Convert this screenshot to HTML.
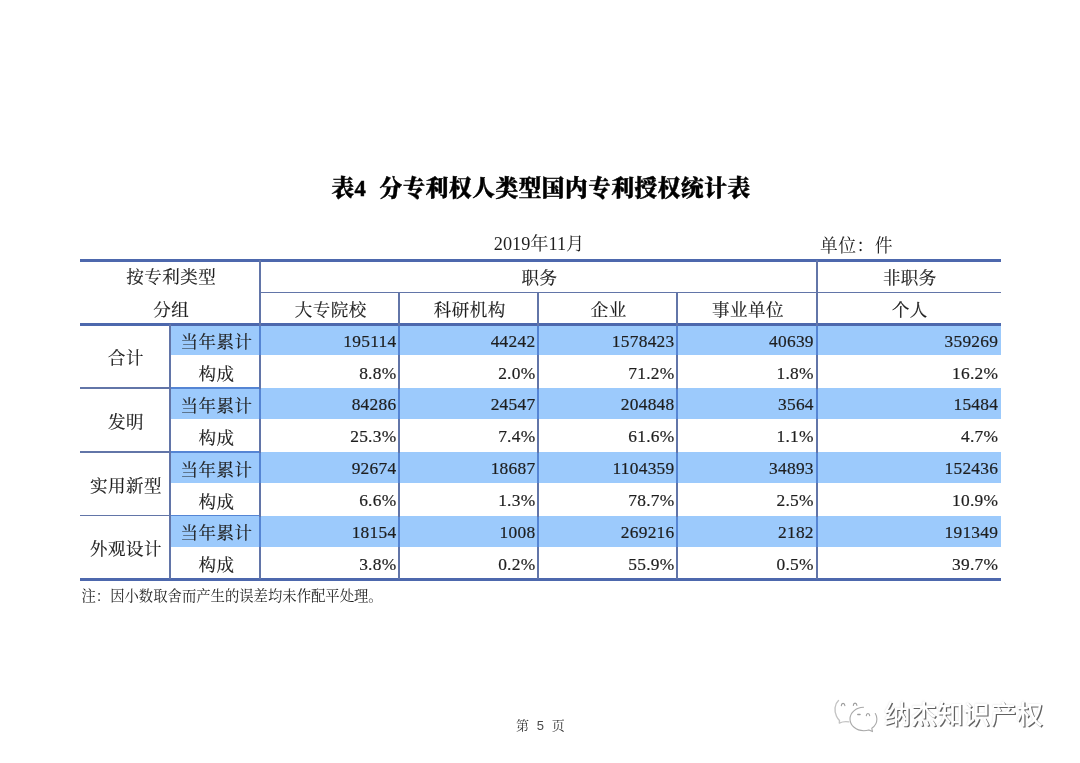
<!DOCTYPE html>
<html lang="zh-CN">
<head>
<meta charset="utf-8">
<title>表4 分专利权人类型国内专利授权统计表</title>
<style>
html,body{margin:0;padding:0;background:#fff;}
body{width:1080px;height:763px;position:relative;overflow:hidden;
 font-family:"Liberation Serif","Noto Serif CJK SC",serif;color:#1e1e1e;}
.abs{position:absolute;white-space:nowrap;}
.title{left:0;width:1080px;top:173.2px;padding-left:1px;-webkit-text-stroke:0.45px #000;text-align:center;font-size:22.6px;font-weight:900;line-height:32px;color:#000;letter-spacing:0.6px;}
.sub{font-size:18px;line-height:24px;}
.cell{position:absolute;-webkit-text-stroke:0.2px #1e1e1e;font-size:18px;line-height:32px;height:32px;white-space:nowrap;}
.c{text-align:center;font-size:17.5px;letter-spacing:0.5px;padding-left:1.1px;}
.r{text-align:right;font-size:17.4px;letter-spacing:0.25px;}
.fill{position:absolute;background:#9ccafc;}
.ln{position:absolute;background:#4d68ad;}
.vl{position:absolute;background:#6275a8;}
.vb{position:absolute;background:#5585d4;}
.note{left:81.5px;top:587px;font-size:14.35px;line-height:18px;}
.pg{top:717px;font-size:13px;line-height:18px;color:#333;}
.wm{left:884px;top:697.5px;font-family:"Liberation Sans","Noto Sans CJK SC",sans-serif;font-size:26.5px;font-weight:500;line-height:34px;color:#fff;
 text-shadow:1.2px 1.2px 0.6px rgba(70,70,70,.85),0 0 1.5px rgba(130,130,130,.35);letter-spacing:0;}
</style>
</head>
<body>
<div id="page" style="position:absolute;left:0;top:0;width:1080px;height:763px;will-change:transform;">

<div class="abs title">表4<span style="display:inline-block;width:13px;"></span>分专利权人类型国内专利授权统计表</div>
<div class="abs sub" style="left:493.8px;top:232.2px;font-size:18.25px;">2019年11月</div>
<div class="abs sub" style="left:820px;top:234px;font-size:17.8px;letter-spacing:0.5px;">单位：件</div>
<div class="fill" style="left:170.0px;top:324.4px;width:831.0px;height:31.1px;"></div>
<div class="fill" style="left:170.0px;top:388.1px;width:831.0px;height:31.1px;"></div>
<div class="fill" style="left:170.0px;top:451.8px;width:831.0px;height:31.1px;"></div>
<div class="fill" style="left:170.0px;top:515.6px;width:831.0px;height:31.1px;"></div>
<div class="ln" style="left:80.0px;top:258.9px;width:921.0px;height:2.8px;"></div>
<div class="vl" style="left:260.2px;top:291.6px;width:740.8px;height:1.9px;"></div>
<div class="ln" style="left:80.0px;top:323.0px;width:921.0px;height:2.8px;"></div>
<div class="ln" style="left:80.0px;top:577.9px;width:921.0px;height:2.8px;"></div>
<div class="vl" style="left:80.0px;top:387.2px;width:90.0px;height:1.8px;"></div>
<div class="vb" style="left:170.0px;top:387.2px;width:90.2px;height:1.8px;"></div>
<div class="vl" style="left:80.0px;top:450.9px;width:90.0px;height:1.8px;"></div>
<div class="vb" style="left:170.0px;top:450.9px;width:90.2px;height:1.8px;"></div>
<div class="vl" style="left:80.0px;top:514.7px;width:90.0px;height:1.8px;"></div>
<div class="vb" style="left:170.0px;top:514.7px;width:90.2px;height:1.8px;"></div>
<div class="vl" style="left:259.2px;top:260.3px;width:2.0px;height:319.0px;"></div>
<div class="vl" style="left:815.6px;top:260.3px;width:2.0px;height:319.0px;"></div>
<div class="vl" style="left:398.2px;top:292.5px;width:2.0px;height:286.8px;"></div>
<div class="vl" style="left:537.2px;top:292.5px;width:2.0px;height:286.8px;"></div>
<div class="vl" style="left:676.3px;top:292.5px;width:2.0px;height:286.8px;"></div>
<div class="vl" style="left:169.0px;top:324.4px;width:2.0px;height:254.9px;"></div>
<div class="vb" style="left:259.2px;top:325.6px;width:2.0px;height:29.9px;"></div>
<div class="vb" style="left:398.2px;top:325.6px;width:2.0px;height:29.9px;"></div>
<div class="vb" style="left:537.2px;top:325.6px;width:2.0px;height:29.9px;"></div>
<div class="vb" style="left:676.3px;top:325.6px;width:2.0px;height:29.9px;"></div>
<div class="vb" style="left:815.6px;top:325.6px;width:2.0px;height:29.9px;"></div>
<div class="vb" style="left:259.2px;top:389.3px;width:2.0px;height:29.9px;"></div>
<div class="vb" style="left:398.2px;top:389.3px;width:2.0px;height:29.9px;"></div>
<div class="vb" style="left:537.2px;top:389.3px;width:2.0px;height:29.9px;"></div>
<div class="vb" style="left:676.3px;top:389.3px;width:2.0px;height:29.9px;"></div>
<div class="vb" style="left:815.6px;top:389.3px;width:2.0px;height:29.9px;"></div>
<div class="vb" style="left:259.2px;top:453.0px;width:2.0px;height:29.9px;"></div>
<div class="vb" style="left:398.2px;top:453.0px;width:2.0px;height:29.9px;"></div>
<div class="vb" style="left:537.2px;top:453.0px;width:2.0px;height:29.9px;"></div>
<div class="vb" style="left:676.3px;top:453.0px;width:2.0px;height:29.9px;"></div>
<div class="vb" style="left:815.6px;top:453.0px;width:2.0px;height:29.9px;"></div>
<div class="vb" style="left:259.2px;top:516.8px;width:2.0px;height:29.9px;"></div>
<div class="vb" style="left:398.2px;top:516.8px;width:2.0px;height:29.9px;"></div>
<div class="vb" style="left:537.2px;top:516.8px;width:2.0px;height:29.9px;"></div>
<div class="vb" style="left:676.3px;top:516.8px;width:2.0px;height:29.9px;"></div>
<div class="vb" style="left:815.6px;top:516.8px;width:2.0px;height:29.9px;"></div>
<div class="cell c" style="left:80.0px;top:261.1px;width:180.2px;">按专利类型</div>
<div class="cell c" style="left:80.0px;top:293.5px;width:180.2px;">分组</div>
<div class="cell c" style="left:260.2px;top:261.7px;width:556.4px;">职务</div>
<div class="cell c" style="left:816.6px;top:261.7px;width:184.4px;">非职务</div>
<div class="cell c" style="left:260.2px;top:294.0px;width:139.0px;">大专院校</div>
<div class="cell c" style="left:399.2px;top:294.0px;width:139.0px;">科研机构</div>
<div class="cell c" style="left:538.2px;top:294.0px;width:139.1px;">企业</div>
<div class="cell c" style="left:677.3px;top:294.0px;width:139.3px;">事业单位</div>
<div class="cell c" style="left:816.6px;top:294.0px;width:184.4px;">个人</div>
<div class="cell c" style="left:80.0px;top:342.2px;width:90.0px;">合计</div>
<div class="cell c" style="left:80.0px;top:405.9px;width:90.0px;">发明</div>
<div class="cell c" style="left:80.0px;top:469.6px;width:90.0px;">实用新型</div>
<div class="cell c" style="left:80.0px;top:533.4px;width:90.0px;">外观设计</div>
<div class="cell c" style="left:170.6px;top:326.2px;width:89.6px;">当年累计</div>
<div class="cell r" style="left:260.2px;top:324.7px;width:136.2px;">195114</div>
<div class="cell r" style="left:399.2px;top:324.7px;width:136.2px;">44242</div>
<div class="cell r" style="left:538.2px;top:324.7px;width:136.3px;">1578423</div>
<div class="cell r" style="left:677.3px;top:324.7px;width:136.5px;">40639</div>
<div class="cell r" style="left:816.6px;top:324.7px;width:181.6px;">359269</div>
<div class="cell c" style="left:170.6px;top:358.1px;width:89.6px;">构成</div>
<div class="cell r" style="left:260.2px;top:356.6px;width:136.2px;">8.8%</div>
<div class="cell r" style="left:399.2px;top:356.6px;width:136.2px;">2.0%</div>
<div class="cell r" style="left:538.2px;top:356.6px;width:136.3px;">71.2%</div>
<div class="cell r" style="left:677.3px;top:356.6px;width:136.5px;">1.8%</div>
<div class="cell r" style="left:816.6px;top:356.6px;width:181.6px;">16.2%</div>
<div class="cell c" style="left:170.6px;top:389.9px;width:89.6px;">当年累计</div>
<div class="cell r" style="left:260.2px;top:388.4px;width:136.2px;">84286</div>
<div class="cell r" style="left:399.2px;top:388.4px;width:136.2px;">24547</div>
<div class="cell r" style="left:538.2px;top:388.4px;width:136.3px;">204848</div>
<div class="cell r" style="left:677.3px;top:388.4px;width:136.5px;">3564</div>
<div class="cell r" style="left:816.6px;top:388.4px;width:181.6px;">15484</div>
<div class="cell c" style="left:170.6px;top:421.8px;width:89.6px;">构成</div>
<div class="cell r" style="left:260.2px;top:420.3px;width:136.2px;">25.3%</div>
<div class="cell r" style="left:399.2px;top:420.3px;width:136.2px;">7.4%</div>
<div class="cell r" style="left:538.2px;top:420.3px;width:136.3px;">61.6%</div>
<div class="cell r" style="left:677.3px;top:420.3px;width:136.5px;">1.1%</div>
<div class="cell r" style="left:816.6px;top:420.3px;width:181.6px;">4.7%</div>
<div class="cell c" style="left:170.6px;top:453.6px;width:89.6px;">当年累计</div>
<div class="cell r" style="left:260.2px;top:452.1px;width:136.2px;">92674</div>
<div class="cell r" style="left:399.2px;top:452.1px;width:136.2px;">18687</div>
<div class="cell r" style="left:538.2px;top:452.1px;width:136.3px;">1104359</div>
<div class="cell r" style="left:677.3px;top:452.1px;width:136.5px;">34893</div>
<div class="cell r" style="left:816.6px;top:452.1px;width:181.6px;">152436</div>
<div class="cell c" style="left:170.6px;top:485.5px;width:89.6px;">构成</div>
<div class="cell r" style="left:260.2px;top:484.0px;width:136.2px;">6.6%</div>
<div class="cell r" style="left:399.2px;top:484.0px;width:136.2px;">1.3%</div>
<div class="cell r" style="left:538.2px;top:484.0px;width:136.3px;">78.7%</div>
<div class="cell r" style="left:677.3px;top:484.0px;width:136.5px;">2.5%</div>
<div class="cell r" style="left:816.6px;top:484.0px;width:181.6px;">10.9%</div>
<div class="cell c" style="left:170.6px;top:517.4px;width:89.6px;">当年累计</div>
<div class="cell r" style="left:260.2px;top:515.9px;width:136.2px;">18154</div>
<div class="cell r" style="left:399.2px;top:515.9px;width:136.2px;">1008</div>
<div class="cell r" style="left:538.2px;top:515.9px;width:136.3px;">269216</div>
<div class="cell r" style="left:677.3px;top:515.9px;width:136.5px;">2182</div>
<div class="cell r" style="left:816.6px;top:515.9px;width:181.6px;">191349</div>
<div class="cell c" style="left:170.6px;top:549.2px;width:89.6px;">构成</div>
<div class="cell r" style="left:260.2px;top:547.7px;width:136.2px;">3.8%</div>
<div class="cell r" style="left:399.2px;top:547.7px;width:136.2px;">0.2%</div>
<div class="cell r" style="left:538.2px;top:547.7px;width:136.3px;">55.9%</div>
<div class="cell r" style="left:677.3px;top:547.7px;width:136.5px;">0.5%</div>
<div class="cell r" style="left:816.6px;top:547.7px;width:181.6px;">39.7%</div>
<div class="abs note">注：因小数取舍而产生的误差均未作配平处理。</div>
<div class="abs pg" style="left:516px;">第</div>
<div class="abs pg" style="left:536.8px;top:717.3px;font-family:'Liberation Sans',sans-serif;font-size:13px;color:#4a4a4a;">5</div>
<div class="abs pg" style="left:551.7px;">页</div>
<svg class="abs" style="left:828px;top:692px;" width="60" height="48" viewBox="0 0 60 48">
<g fill="none" stroke="#a9a9a9" stroke-width="1.1" stroke-linecap="round" stroke-linejoin="round">
<path d="M10.500 8.500C6.500 12 6 19 8.500 24.200c.8 1.700 1.900 3.200 3 4.300l-.2 2.600c3-1.400 6-1.800 9.600-1.200" stroke="#c4c4c4" stroke-width="1.400"/>
<path d="M35.500 15.300c-7.500.2-13.500 5.300-13.500 11.700 0 6.500 6.200 11.700 13.800 11.700 1.800 0 3.500-.3 5.100-.8l3.600 1.700-.7-3.300c3.200-2.200 5.100-5.500 5.100-9.300 0-2-.6-3.900-1.600-5.500"/>
<path d="M13.300 13.600c.2-3 3.300-3 3.600 0" stroke-width="1.100" stroke="#9c9c9c"/>
<path d="M25.300 13.400c.2-3 3.300-3 3.600 0" stroke-width="1.100" stroke="#9c9c9c"/>
<path d="M29.800 22.400h2.200" stroke-width="1.500" stroke="#9c9c9c"/>
<path d="M38.300 23.600c.2-2.800 3.100-2.800 3.400 0" stroke-width="1.100" stroke="#9c9c9c"/>
</g>
</svg>
<div class="abs wm">纳杰知识产权</div>
</div>
</body>
</html>
